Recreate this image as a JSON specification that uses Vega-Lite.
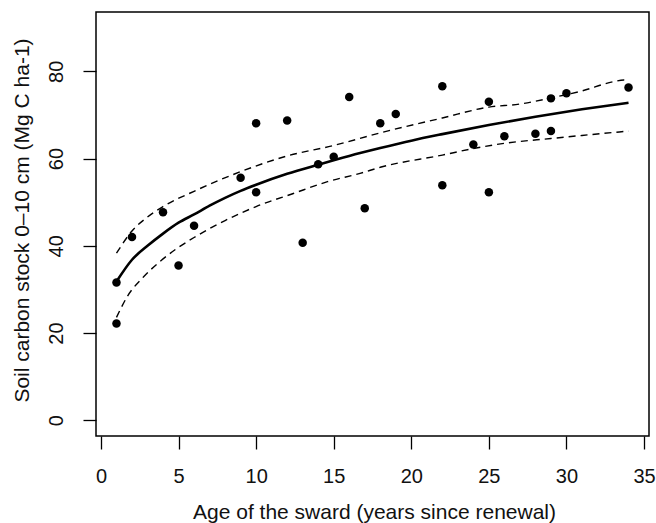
{
  "$schema": "https://vega.github.io/schema/vega-lite/v6.json",
  "width": 553,
  "height": 424,
  "autosize": "none",
  "padding": {"left": 96, "top": 12, "right": 7, "bottom": 87},
  "background": "white",
  "config": {
    "font": "Liberation Sans",
    "view": {"stroke": "black", "strokeWidth": 1.5},
    "axis": {"grid": false, "domain": false, "tickColor": "black", "tickWidth": 1.3, "tickSize": 13, "labelColor": "#111", "titleColor": "#111", "labelFontSize": 20, "titleFontSize": 21, "titleFontWeight": "normal", "labelFont": "Liberation Sans", "titleFont": "Liberation Sans"}
  },
  "datasets": {
    "pts": [
      {"age": 1, "soc": 31.6}, {"age": 1, "soc": 22.2}, {"age": 2, "soc": 42.0}, {"age": 4, "soc": 47.7},
      {"age": 5, "soc": 35.5}, {"age": 6, "soc": 44.6}, {"age": 9, "soc": 55.6}, {"age": 10, "soc": 68.1},
      {"age": 10, "soc": 52.3}, {"age": 12, "soc": 68.7}, {"age": 13, "soc": 40.7}, {"age": 14, "soc": 58.7},
      {"age": 15, "soc": 60.4}, {"age": 16, "soc": 74.1}, {"age": 17, "soc": 48.6}, {"age": 18, "soc": 68.1},
      {"age": 19, "soc": 70.2}, {"age": 22, "soc": 76.6}, {"age": 22, "soc": 53.9}, {"age": 24, "soc": 63.2},
      {"age": 25, "soc": 73.0}, {"age": 25, "soc": 52.3}, {"age": 26, "soc": 65.1}, {"age": 28, "soc": 65.7},
      {"age": 29, "soc": 73.8}, {"age": 29, "soc": 66.3}, {"age": 30, "soc": 75.0}, {"age": 34, "soc": 76.3}
    ],
    "fit": [
      {"age": 1, "soc": 31.8}, {"age": 2, "soc": 36.8}, {"age": 3, "soc": 40.0}, {"age": 4, "soc": 42.8},
      {"age": 5, "soc": 45.3}, {"age": 6, "soc": 47.2}, {"age": 7, "soc": 49.2}, {"age": 8, "soc": 51.0},
      {"age": 9, "soc": 52.6}, {"age": 10, "soc": 54.0}, {"age": 12, "soc": 56.5}, {"age": 14, "soc": 58.6},
      {"age": 16, "soc": 60.6}, {"age": 18, "soc": 62.4}, {"age": 20, "soc": 64.1}, {"age": 22, "soc": 65.6},
      {"age": 25, "soc": 67.7}, {"age": 28, "soc": 69.6}, {"age": 31, "soc": 71.3}, {"age": 34, "soc": 72.8}
    ],
    "band": [
      {"age": 1, "soc": 38.3, "b": "upper"}, {"age": 2, "soc": 43.4, "b": "upper"}, {"age": 3, "soc": 46.6, "b": "upper"},
      {"age": 4, "soc": 49.0, "b": "upper"}, {"age": 6, "soc": 52.5, "b": "upper"}, {"age": 9, "soc": 57.0, "b": "upper"},
      {"age": 12, "soc": 60.6, "b": "upper"}, {"age": 15, "soc": 63.0, "b": "upper"}, {"age": 18, "soc": 65.9, "b": "upper"},
      {"age": 22, "soc": 69.3, "b": "upper"}, {"age": 25, "soc": 71.8, "b": "upper"}, {"age": 27, "soc": 72.5, "b": "upper"},
      {"age": 29, "soc": 73.9, "b": "upper"}, {"age": 31, "soc": 75.5, "b": "upper"}, {"age": 33, "soc": 77.6, "b": "upper"},
      {"age": 33.7, "soc": 78.0, "b": "upper"}, {"age": 34, "soc": 77.6, "b": "upper"},
      {"age": 1, "soc": 23.6, "b": "lower"}, {"age": 1.7, "soc": 28.4, "b": "lower"}, {"age": 2.75, "soc": 32.9, "b": "lower"},
      {"age": 3.8, "soc": 36.4, "b": "lower"}, {"age": 4.9, "soc": 39.4, "b": "lower"}, {"age": 6, "soc": 41.9, "b": "lower"},
      {"age": 8, "soc": 45.8, "b": "lower"}, {"age": 10, "soc": 49.0, "b": "lower"}, {"age": 12.4, "soc": 52.0, "b": "lower"},
      {"age": 14.6, "soc": 54.7, "b": "lower"}, {"age": 16.7, "soc": 56.6, "b": "lower"}, {"age": 18, "soc": 58.0, "b": "lower"},
      {"age": 22, "soc": 60.8, "b": "lower"}, {"age": 24, "soc": 62.3, "b": "lower"}, {"age": 26, "soc": 63.5, "b": "lower"},
      {"age": 29, "soc": 64.6, "b": "lower"}, {"age": 31, "soc": 65.3, "b": "lower"}, {"age": 34, "soc": 66.3, "b": "lower"}
    ]
  },
  "encoding": {
    "x": {
      "field": "age", "type": "quantitative",
      "scale": {"domain": [-0.32, 35.32], "nice": false, "zero": false},
      "axis": {"values": [0, 5, 10, 15, 20, 25, 30, 35], "labelPadding": 17, "title": "Age of the sward (years since renewal)", "titleBaseline": "alphabetic", "titleX": 278, "titleY": 82, "titleAlign": "center"}
    },
    "y": {
      "field": "soc", "type": "quantitative",
      "scale": {"domain": [-3.6, 93.6], "nice": false, "zero": false},
      "axis": {"values": [0, 20, 40, 60, 80], "labelAngle": -90, "labelAlign": "center", "labelBaseline": "alphabetic", "labelPadding": 21, "title": "Soil carbon stock 0–10 cm (Mg C ha-1)", "titleAngle": -90, "titleBaseline": "alphabetic", "titleAlign": "center", "titleX": -68, "titleY": 208}
    }
  },
  "layer": [
    {"data": {"name": "band"}, "mark": {"type": "line", "color": "black", "strokeWidth": 1.4, "strokeDash": [7, 5], "interpolate": "monotone"}, "encoding": {"detail": {"field": "b"}}},
    {"data": {"name": "fit"}, "mark": {"type": "line", "color": "black", "strokeWidth": 2.6, "interpolate": "monotone"}},
    {"data": {"name": "pts"}, "mark": {"type": "circle", "color": "black", "opacity": 1, "size": 72}}
  ]
}
